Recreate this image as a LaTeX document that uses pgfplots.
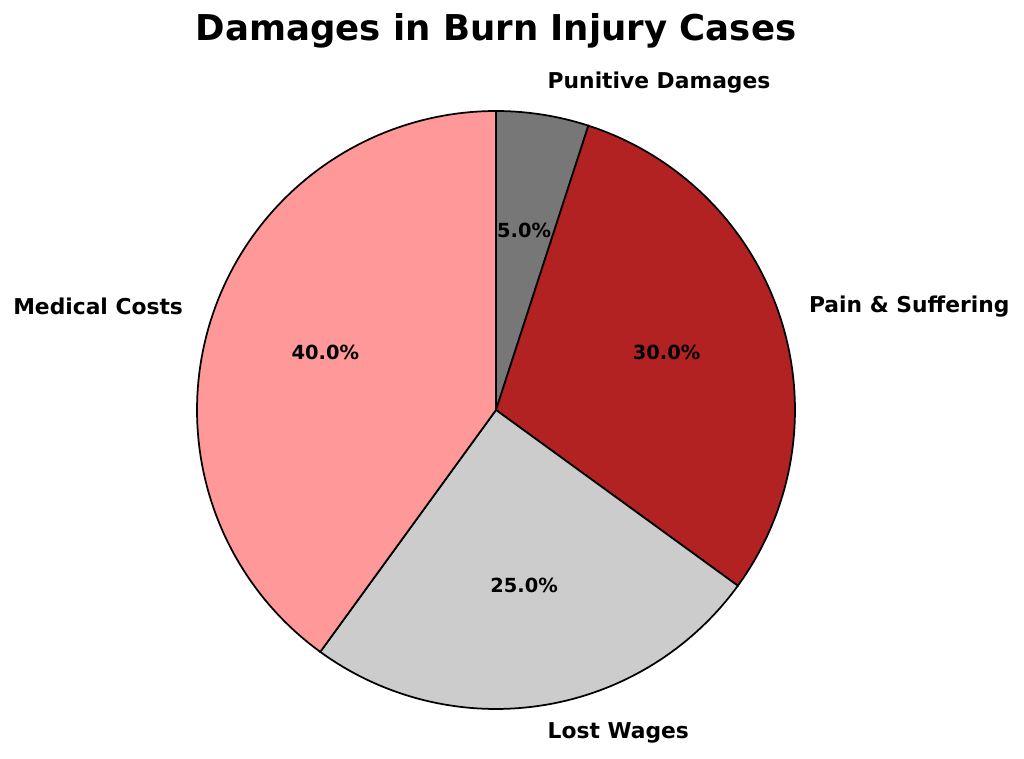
\documentclass[border=0pt]{standalone}
\usepackage{pgfplots}
\pgfplotsset{compat=1.18}
\usepackage{fontspec}
\setmainfont{DejaVu Sans}

\definecolor{cPun}{HTML}{777777}
\definecolor{cPain}{HTML}{B22222}
\definecolor{cLost}{HTML}{CCCCCC}
\definecolor{cMed}{HTML}{FF9999}

% shares in percent, clockwise from 12 o'clock
\def\vPun{5}
\def\vPain{30}
\def\vLost{25}
\def\vMed{40}

\pgfmathsetmacro\aA{90}
\pgfmathsetmacro\aB{\aA-3.6*\vPun}
\pgfmathsetmacro\aC{\aB-3.6*\vPain}
\pgfmathsetmacro\aD{\aC-3.6*\vLost}
\pgfmathsetmacro\aE{\aD-3.6*\vMed}

% centre and radius in pixel units
\def\cx{496}
\def\cy{349}
\def\rr{299}

\begin{document}
\begin{tikzpicture}
\begin{axis}[
    width=737.28pt, height=546.48pt,
    scale only axis,
    xmin=0, xmax=1024, ymin=0, ymax=759,
    hide axis,
    clip=false,
]
\path (rel axis cs:0,0) rectangle (rel axis cs:1,1);

\addplot[fill=cPun, draw=black, line width=1.25pt, domain=\aB:\aA, samples=20, variable=\t]
    ({\cx+\rr*cos(\t)}, {\cy+\rr*sin(\t)}) -- (axis cs:\cx,\cy) -- cycle;
\addplot[fill=cPain, draw=black, line width=1.25pt, domain=\aC:\aB, samples=80, variable=\t]
    ({\cx+\rr*cos(\t)}, {\cy+\rr*sin(\t)}) -- (axis cs:\cx,\cy) -- cycle;
\addplot[fill=cLost, draw=black, line width=1.25pt, domain=\aD:\aC, samples=70, variable=\t]
    ({\cx+\rr*cos(\t)}, {\cy+\rr*sin(\t)}) -- (axis cs:\cx,\cy) -- cycle;
\addplot[fill=cMed, draw=black, line width=1.25pt, domain=\aE:\aD, samples=100, variable=\t]
    ({\cx+\rr*cos(\t)}, {\cy+\rr*sin(\t)}) -- (axis cs:\cx,\cy) -- cycle;

% outer labels
\tikzset{lab/.style={inner sep=0pt, yshift=1.5pt, font=\bfseries\fontsize{15.7}{18}\selectfont},
         pct/.style={inner sep=0pt, yshift=1.5pt, font=\bfseries\fontsize{14}{16}\selectfont}}
\node[lab, anchor=west]
    at (axis cs:{\cx+1.1*\rr*cos((\aA+\aB)/2)},{\cy+1.1*\rr*sin((\aA+\aB)/2)}) {Punitive Damages};
\node[lab, anchor=west]
    at (axis cs:{\cx+1.1*\rr*cos((\aB+\aC)/2)},{\cy+1.1*\rr*sin((\aB+\aC)/2)}) {Pain \& Suffering};
\node[lab, anchor=west]
    at (axis cs:{\cx+1.1*\rr*cos((\aC+\aD)/2)},{\cy+1.1*\rr*sin((\aC+\aD)/2)}) {Lost Wages};
\node[lab, anchor=east]
    at (axis cs:{\cx+1.1*\rr*cos((\aD+\aE)/2)},{\cy+1.1*\rr*sin((\aD+\aE)/2)}) {Medical Costs};

% percentages
\node[pct]
    at (axis cs:{\cx+0.6*\rr*cos((\aA+\aB)/2)},{\cy+0.6*\rr*sin((\aA+\aB)/2)}) {5.0\%};
\node[pct]
    at (axis cs:{\cx+0.6*\rr*cos((\aB+\aC)/2)},{\cy+0.6*\rr*sin((\aB+\aC)/2)}) {30.0\%};
\node[pct]
    at (axis cs:{\cx+0.6*\rr*cos((\aC+\aD)/2)},{\cy+0.6*\rr*sin((\aC+\aD)/2)}) {25.0\%};
\node[pct]
    at (axis cs:{\cx+0.6*\rr*cos((\aD+\aE)/2)},{\cy+0.6*\rr*sin((\aD+\aE)/2)}) {40.0\%};

% title
\node[anchor=base, font=\bfseries\fontsize{25.6}{30}\selectfont]
    at (axis cs:\cx,718) {Damages in Burn Injury Cases};
\end{axis}
\end{tikzpicture}
\end{document}
